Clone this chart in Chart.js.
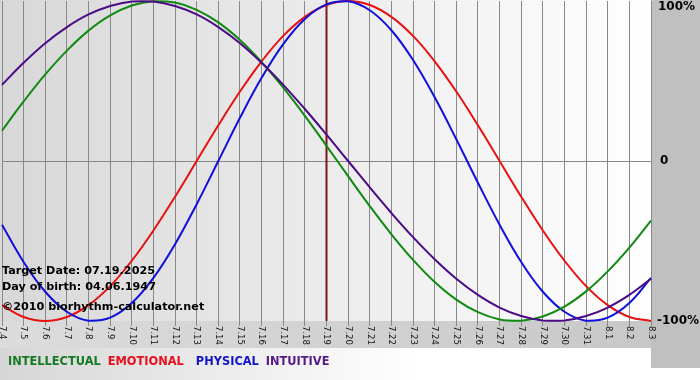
<!DOCTYPE html>
<html>
<head>
<meta charset="utf-8">
<script src="https://cdn.jsdelivr.net/npm/chart.js@4/dist/chart.umd.min.js"></script>
<style>
html,body{margin:0;padding:0;background:#fff;}
#wrap{width:700px;height:380px;position:relative;}
</style>
</head>
<body>
<div id="wrap"><canvas id="c" width="700" height="380"></canvas></div>
<script>
const days = ['7.4','7.5','7.6','7.7','7.8','7.9','7.10','7.11','7.12','7.13','7.14','7.15','7.16','7.17','7.18','7.19','7.20','7.21','7.22','7.23','7.24','7.25','7.26','7.27','7.28','7.29','7.30','7.31','8.1','8.2','8.3'];

const intellectual = [0.189,0.372,0.541,0.690,0.815,0.910,0.972,0.999,0.990,0.945,0.866,0.756,0.618,0.458,0.282,0.095,-0.095,-0.282,-0.458,-0.618,-0.756,-0.866,-0.945,-0.990,-0.999,-0.972,-0.910,-0.815,-0.690,-0.541,-0.372];
const emotional = [-0.901,-0.975,-1.000,-0.975,-0.901,-0.782,-0.623,-0.434,-0.223,0.000,0.223,0.434,0.623,0.782,0.901,0.975,1.000,0.975,0.901,0.782,0.623,0.434,0.223,0.000,-0.223,-0.434,-0.623,-0.782,-0.901,-0.975,-1.000];
const physical = [-0.398,-0.631,-0.817,-0.942,-0.998,-0.979,-0.888,-0.731,-0.520,-0.270,0.000,0.270,0.520,0.731,0.888,0.979,0.998,0.942,0.817,0.631,0.398,0.136,-0.136,-0.398,-0.631,-0.817,-0.942,-0.998,-0.979,-0.888,-0.731];
const intuitive = [0.476,0.614,0.736,0.837,0.916,0.969,0.997,0.997,0.969,0.916,0.837,0.736,0.614,0.476,0.325,0.165,0.000,-0.165,-0.325,-0.476,-0.614,-0.736,-0.837,-0.916,-0.969,-0.997,-0.997,-0.969,-0.916,-0.837,-0.736];

const yTickLabels = [{v:1,t:'100%'},{v:0,t:'0'},{v:-1,t:'-100%'}];
const targetDay = '7.19';
const infoLines = ['Target Date: 07.19.2025','Day of birth: 04.06.1947','\u00A92010 biorhythm-calculator.net'];

const seriesNames = ['INTELLECTUAL','EMOTIONAL','PHYSICAL','INTUITIVE'];
const lineColors = ['#118a11','#e81010','#1010dd','#4b0a86'];
const legendColors = ['#147a24','#e8101c','#1414cc','#551a8a'];

const FONT = '"DejaVu Sans", Verdana, sans-serif';

const bgPlugin = {
  id: 'bg',
  beforeDraw(chart) {
    const {ctx, chartArea: a, width, height} = chart;
    ctx.save();
    let g = ctx.createLinearGradient(0, 0, width, 0);
    g.addColorStop(0, '#d6d6d6'); g.addColorStop(0.6, '#ffffff'); g.addColorStop(1, '#ffffff');
    ctx.fillStyle = g; ctx.fillRect(0, 0, width, height);
    g = ctx.createLinearGradient(0, 0, a.right, 0);
    g.addColorStop(0, '#dcdcdc'); g.addColorStop(1, '#c8c8c8');
    ctx.fillStyle = g; ctx.fillRect(0, a.bottom, a.right, 27);
    ctx.fillStyle = '#c0c0c0'; ctx.fillRect(a.right, 0, width - a.right, 368);
    g = ctx.createLinearGradient(0, 0, a.right, 0);
    g.addColorStop(0, '#d8d8d8'); g.addColorStop(1, '#ffffff');
    ctx.fillStyle = g; ctx.fillRect(0, 0, a.right, a.bottom);
    ctx.restore();
  },
  beforeDatasetsDraw(chart) {
    const {ctx, chartArea: a, scales} = chart;
    const x = scales.x.getPixelForValue(days.indexOf(targetDay));
    ctx.save();
    ctx.strokeStyle = '#7a1616';
    ctx.lineWidth = 2;
    ctx.beginPath(); ctx.moveTo(x, 0); ctx.lineTo(x, a.bottom); ctx.stroke();
    ctx.restore();
  },
  afterDraw(chart) {
    const {ctx, chartArea: a, scales} = chart;
    ctx.save();
    ctx.fillStyle = '#111';
    ctx.font = '8.5px ' + FONT;
    ctx.textAlign = 'left'; ctx.textBaseline = 'middle';
    days.forEach((d, i) => {
      const x = scales.x.getPixelForValue(i);
      ctx.save();
      ctx.translate(x, a.bottom + 5);
      ctx.rotate(Math.PI / 2);
      ctx.fillText(d, 0, 0);
      ctx.restore();
    });
    ctx.fillStyle = '#000';
    ctx.font = 'bold 12px ' + FONT;
    yTickLabels.forEach(o => {
      let y = scales.y.getPixelForValue(o.v);
      if (o.v === 1) y += 6;
      ctx.fillText(o.t, a.right + (o.t === '0' ? 9 : (o.v === 1 ? 7 : 6)), y);
    });
    ctx.font = 'bold 11.2px ' + FONT;
    ctx.fillStyle = '#000';
    const ys = [271, 287, 307];
    infoLines.forEach((t, i) => ctx.fillText(t, 2, ys[i]));
    ctx.font = 'bold 11.4px ' + FONT;
    let lx = 8;
    seriesNames.forEach((n, i) => {
      ctx.fillStyle = legendColors[i];
      ctx.fillText(n, lx, 362);
      lx += ctx.measureText(n).width + (i === 1 ? 12 : 7);
    });
    ctx.restore();
  }
};

const mk = (i, data) => ({
  label: seriesNames[i], data, borderColor: lineColors[i], borderWidth: 2,
  pointRadius: 0, tension: 0.4, fill: false, clip: false
});

new Chart(document.getElementById('c'), {
  type: 'line',
  data: {
    labels: days,
    datasets: [mk(3, intuitive), mk(0, intellectual), mk(2, physical), mk(1, emotional)]
  },
  options: {
    responsive: false,
    animation: false,
    events: [],
    layout: {padding: {left: 2, top: 1, right: 0, bottom: 0}},
    plugins: {legend: {display: false}, tooltip: {enabled: false}},
    scales: {
      x: {
        offset: false,
        grid: {offset: false, color: '#888', lineWidth: 1, drawTicks: true, tickLength: 5, tickColor: '#888'},
        border: {display: false},
        ticks: {display: false, autoSkip: false},
        afterFit(s) { s.height = 59; }
      },
      y: {
        position: 'right',
        min: -1, max: 1,
        ticks: {display: false, stepSize: 1},
        grid: {drawTicks: false, color: c => c.tick && c.tick.value === 0 ? '#888' : 'rgba(0,0,0,0)'},
        border: {display: false},
        afterFit(s) { s.width = 49; }
      }
    }
  },
  plugins: [bgPlugin]
});
</script>
</body>
</html>
